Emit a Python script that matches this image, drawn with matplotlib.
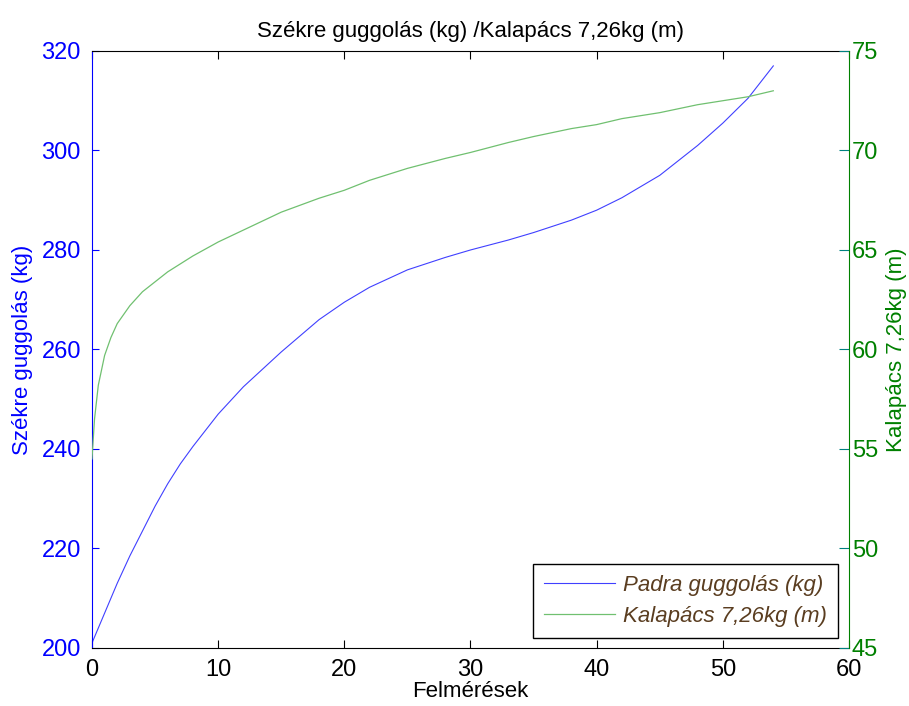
import numpy as np
import matplotlib.pyplot as plt

plt.rcParams['font.family'] = ['Liberation Sans', 'DejaVu Sans']

# Szekre guggolas (kg) - left axis
x_squat = [0, 1, 2, 3, 4, 5, 6, 7, 8, 10, 12, 15, 18, 20, 22, 25, 28, 30, 33, 35, 38, 40, 42, 45, 48, 50, 52, 54]
squat = [201, 207, 213, 218.5, 223.5, 228.5, 233, 237, 240.5, 247, 252.5, 259.5, 266, 269.5, 272.5, 276, 278.5, 280, 282, 283.5, 286, 288, 290.5, 295, 301, 305.5, 310.5, 317]

# Kalapacs 7,26kg (m) - right axis
x_hammer = [0, 0.2, 0.5, 1, 1.5, 2, 3, 4, 5, 6, 8, 10, 12, 15, 18, 20, 22, 25, 28, 30, 33, 35, 38, 40, 42, 45, 48, 50, 52, 54]
hammer = [54.5, 56.5, 58.2, 59.7, 60.6, 61.3, 62.2, 62.9, 63.4, 63.9, 64.7, 65.4, 66.0, 66.9, 67.6, 68.0, 68.5, 69.1, 69.6, 69.9, 70.4, 70.7, 71.1, 71.3, 71.6, 71.9, 72.3, 72.5, 72.7, 73.0]

fig = plt.figure(figsize=(9.09, 7.06), dpi=100)
ax = fig.add_axes([0.1012, 0.0822, 0.8328, 0.8456])
ax2 = ax.twinx()

l1, = ax.plot(x_squat, squat, color='#4040ff', lw=0.8, label='Padra guggolás (kg)')
l2, = ax2.plot(x_hammer, hammer, color='#70c070', lw=0.9, label='Kalapács 7,26kg (m)')

ax.set_xlim(0, 60)
ax.set_ylim(200, 320)
ax2.set_ylim(45, 75)
ax.set_xticks(np.arange(0, 61, 10))
ax.set_yticks(np.arange(200, 321, 20))
ax2.set_yticks(np.arange(45, 76, 5))

ax.tick_params(axis='x', direction='in', length=6, labelsize=17, colors='black', pad=8, top=True)
ax.tick_params(axis='y', direction='in', length=5, labelsize=17, colors='blue', labelcolor='blue', pad=8)
ax2.tick_params(axis='y', direction='in', length=7, labelsize=17, colors='#008080', labelcolor='green', pad=2)

ax.spines['left'].set_color('blue')
ax2.spines['left'].set_visible(False)
ax2.spines['right'].set_color('green')
ax.spines['right'].set_visible(False)
for s in ('top', 'bottom'):
    ax2.spines[s].set_visible(False)
    ax.spines[s].set_color('black')

ax.set_title('Székre guggolás (kg) /Kalapács 7,26kg (m)', fontsize=16, pad=10)
ax.set_xlabel('Felmérések', fontsize=16, labelpad=0)
ax.set_ylabel('Székre guggolás (kg)', fontsize=16, color='blue', labelpad=6)
ax2.set_ylabel('Kalapács 7,26kg (m)', fontsize=16, color='green', rotation=90, labelpad=6)

leg = ax2.legend(handles=[l1, l2], loc='lower right', bbox_to_anchor=(0.9855, 0.0168),
                 borderaxespad=0, fancybox=False, framealpha=1, edgecolor='black',
                 handlelength=3.2, handletextpad=0.35, borderpad=0.5, labelspacing=0.45,
                 prop={'size': 16, 'style': 'italic'})
leg.get_frame().set_linewidth(1.0)
for t in leg.get_texts():
    t.set_color('#5a3d20')

fig.savefig('out.png', dpi=100)
